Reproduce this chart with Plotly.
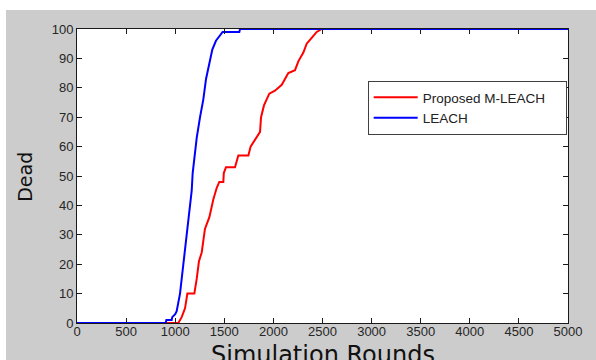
import plotly.graph_objects as go

# ---- data ----
leach_rounds = [0, 903, 910, 964, 970, 1000, 1015, 1049, 1083, 1117, 1144, 1168, 1178, 1195,
                1219, 1253, 1286, 1314, 1354, 1378, 1415, 1456, 1483, 1653, 1660, 5000]
leach_dead = [0, 0, 1, 1, 2, 3, 4, 10, 20, 30, 38, 45, 51, 57,
              63, 70, 76, 83, 89, 93, 96, 98, 99, 99, 100, 100]

mleach_rounds = [0, 1032, 1066, 1100, 1124, 1195, 1219, 1242, 1270, 1303, 1348, 1388, 1423,
                 1449, 1490, 1495, 1517, 1609, 1643, 1745, 1768, 1823, 1864, 1874, 1904,
                 1958, 2016, 2085, 2152, 2220, 2254, 2305, 2339, 2390, 2441, 2492, 5000]
mleach_dead = [0, 0, 2, 5, 10, 10, 15, 21, 24, 32, 36, 42, 46,
               48, 48, 51, 53, 53, 57, 57, 60, 63, 65, 70, 74,
               78, 79, 81, 85, 86, 89, 92, 95, 97, 99, 100, 100]

x_ticks = [0, 500, 1000, 1500, 2000, 2500, 3000, 3500, 4000, 4500, 5000]
y_ticks = [0, 10, 20, 30, 40, 50, 60, 70, 80, 90, 100]

x_title = "Simulation Rounds"
y_title = "Dead"
names = ["Proposed M-LEACH", "LEACH"]

fig = go.Figure()
fig.add_trace(go.Scatter(x=mleach_rounds, y=mleach_dead, mode="lines",
                         name=names[0] + "\u00a0" * 4, line=dict(color="#ff0000", width=2)))
fig.add_trace(go.Scatter(x=leach_rounds, y=leach_dead, mode="lines",
                         name=names[1], line=dict(color="#0000ff", width=2)))

axis_common = dict(showgrid=False, zeroline=False, showline=True, linecolor="#1a1a1a",
                   linewidth=1, mirror="allticks", ticks="inside", ticklen=5,
                   tickcolor="#1a1a1a", tickfont=dict(family="Arial", size=13, color="#262626"))

fig.update_xaxes(range=[0, 5000], tickvals=x_ticks, ticktext=[str(v) for v in x_ticks],
                 ticklabelstandoff=-4, **axis_common)
fig.update_yaxes(range=[0, 100], tickvals=y_ticks, ticktext=[str(v) for v in y_ticks],
                 **axis_common)

# figure is placed at (6, 10) in the page, on a white page background
fig.update_layout(
    width=590, height=350,
    margin=dict(l=71, r=28, t=19, b=37, autoexpand=False),
    paper_bgcolor="#cccccc", plot_bgcolor="#ffffff",
    showlegend=True,
    legend=dict(x=0.592, y=0.823, xanchor="left", yanchor="top",
                bgcolor="#ffffff", bordercolor="#404040", borderwidth=1,
                font=dict(family="Arial", size=13.5, color="#222222"),
                tracegroupgap=0, itemwidth=44),
    annotations=[
        dict(text=x_title, xref="paper", yref="paper", x=0.5, y=-0.054,
             xanchor="center", yanchor="top", showarrow=False,
             font=dict(family="DejaVu Sans", size=24, color="#111111")),
        dict(text=y_title, xref="paper", yref="paper", x=-0.106, y=0.497,
             xanchor="center", yanchor="middle", showarrow=False, textangle=-90,
             font=dict(family="DejaVu Sans", size=19, color="#111111")),
    ],
)

fig.write_html(
    "out.html",
    config={"displayModeBar": False},
    post_script=(
        "document.body.style.margin='0px';"
        "document.body.style.padding='10px 0 0 6px';"
        "document.body.style.background='#ffffff';"
        "document.body.style.overflow='hidden';"
    ),
)
